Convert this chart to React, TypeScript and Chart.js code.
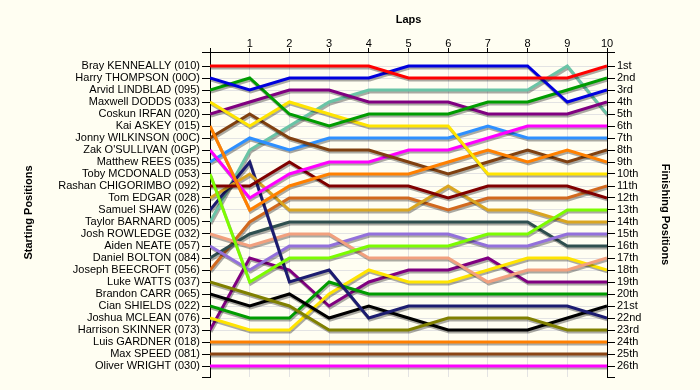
import React, { useEffect, useRef } from 'react';
import { Chart, registerables } from 'chart.js';

Chart.register(...registerables);

// ---- data ----
const laps = [0, 1, 2, 3, 4, 5, 6, 7, 8, 9, 10];
const lapTickLabels = ['', '1', '2', '3', '4', '5', '6', '7', '8', '9', '10'];

const startingNames = [
  'Bray KENNEALLY (010)', 'Harry THOMPSON (00O)', 'Arvid LINDBLAD (095)', 'Maxwell DODDS (033)',
  'Coskun IRFAN (020)', 'Kai ASKEY (015)', 'Jonny WILKINSON (00C)', "Zak O'SULLIVAN (0GP)",
  'Matthew REES (035)', 'Toby MCDONALD (053)', 'Rashan CHIGORIMBO (092)', 'Tom EDGAR (028)',
  'Samuel SHAW (026)', 'Taylor BARNARD (005)', 'Josh ROWLEDGE (032)', 'Aiden NEATE (057)',
  'Daniel BOLTON (084)', 'Joseph BEECROFT (056)', 'Luke WATTS (037)', 'Brandon CARR (065)',
  'Cian SHIELDS (022)', 'Joshua MCLEAN (076)', 'Harrison SKINNER (073)', 'Luis GARDNER (018)',
  'Max SPEED (081)', 'Oliver WRIGHT (030)',
];

const finishingLabels = [
  '1st', '2nd', '3rd', '4th', '5th', '6th', '7th', '8th', '9th', '10th', '11th', '12th', '13th',
  '14th', '15th', '16th', '17th', '18th', '19th', '20th', '21st', '22nd', '23rd', '24th', '25th', '26th',
];

const driverColors = [
  '#ff0000', '#0000dd', '#009c00', '#ffe400', '#800080', '#ff8000', '#804010', '#ff00ff',
  '#2e90ff', '#7cfc00', '#800000', '#daa520', '#1c1c70', '#6ac4a6', '#f2a07e', '#9370db',
  '#2f4f4f', '#d2691e', '#808000', '#000000', '#009c00', '#ffe400', '#800080', '#ff8000',
  '#8b4513', '#ff00ff',
];

const kenneally = [1, 1, 1, 1, 1, 2, 2, 2, 2, 2, 1];
const thompson = [2, 3, 2, 2, 2, 1, 1, 1, 1, 4, 3];
const lindblad = [3, 2, 5, 6, 5, 5, 5, 4, 4, 3, 2];
const dodds = [4, 6, 4, 5, 6, 6, 6, 10, 10, 10, 10];
const irfan = [5, 4, 3, 3, 4, 4, 4, 5, 5, 5, 4];
const askey = [6, 13, 11, 10, 10, 10, 9, 8, 9, 8, 9];
const wilkinson = [7, 5, 7, 8, 8, 9, 10, 9, 8, 9, 8];
const osullivan = [8, 12, 10, 9, 9, 8, 8, 7, 6, 6, 6];
const rees = [9, 7, 8, 7, 7, 7, 7, 6, 7, 7, 7];
const mcdonald = [10, 19, 17, 17, 16, 16, 16, 15, 15, 13, 13];
const chigorimbo = [11, 11, 9, 11, 11, 11, 12, 11, 11, 11, 12];
const edgar = [12, 10, 13, 13, 13, 13, 11, 13, 13, 14, 14];
const shaw = [13, 9, 19, 18, 22, 21, 21, 21, 21, 21, 22];
const barnard = [14, 8, 6, 4, 3, 3, 3, 3, 3, 1, 5];
const rowledge = [15, 16, 15, 15, 17, 17, 17, 19, 18, 18, 17];
const neate = [16, 18, 16, 16, 15, 15, 15, 16, 16, 15, 15];
const bolton = [17, 15, 14, 14, 14, 14, 14, 14, 14, 16, 16];
const beecroft = [18, 14, 12, 12, 12, 12, 13, 12, 12, 12, 11];
const watts = [19, 20, 21, 23, 23, 23, 22, 22, 22, 23, 23];
const carr = [20, 21, 20, 22, 21, 22, 23, 23, 23, 22, 21];
const shields = [21, 22, 22, 19, 20, 20, 20, 20, 20, 20, 20];
const mclean = [22, 23, 23, 20, 18, 19, 19, 18, 17, 17, 18];
const skinner = [23, 17, 18, 21, 19, 18, 18, 17, 19, 19, 19];
const gardner = [24, 24, 24, 24, 24, 24, 24, 24, 24, 24, 24];
const speed = [25, 25, 25, 25, 25, 25, 25, 25, 25, 25, 25];
const wright = [26, 26, 26, 26, 26, 26, 26, 26, 26, 26, 26];

const positionSeries = [
  kenneally, thompson, lindblad, dodds, irfan, askey, wilkinson, osullivan, rees, mcdonald,
  chigorimbo, edgar, shaw, barnard, rowledge, neate, bolton, beecroft, watts, carr, shields,
  mclean, skinner, gardner, speed, wright,
];

// ---- style ----
const FONT = "'Liberation Sans', Arial, sans-serif";
const BG = '#fffef2';
const GRID = '#e3e3e3';
const Y_MIN = -1 / 6;
const Y_MAX = 26 + 11 / 12;

const decorPlugin = {
  id: 'decor',
  beforeDatasetsDraw(chart: any) {
    const ctx = chart.ctx;
    ctx.save();
    ctx.shadowColor = 'rgba(0,0,0,0.33)';
    ctx.shadowOffsetX = 1;
    ctx.shadowOffsetY = 2;
    ctx.shadowBlur = 0;
  },
  afterDatasetsDraw(chart: any) {
    chart.ctx.restore();
  },
  afterDraw(chart: any) {
    const ctx = chart.ctx;
    const ca = chart.chartArea;
    ctx.save();
    ctx.fillStyle = '#000';
    ctx.font = `bold 11px ${FONT}`;
    ctx.textAlign = 'center';
    ctx.textBaseline = 'middle';
    ctx.fillText('Laps', (ca.left + ca.right) / 2, 20);
    const cy = (ca.top + ca.bottom) / 2;
    ctx.save();
    ctx.translate(29, cy - 2);
    ctx.rotate(-Math.PI / 2);
    ctx.fillText('Starting Positions', 0, 0);
    ctx.restore();
    ctx.save();
    ctx.translate(665, cy);
    ctx.rotate(Math.PI / 2);
    ctx.fillText('Finishing Positions', 0, 0);
    ctx.restore();
    ctx.restore();
  },
};

function yTicks(scale: any) {
  const t = [{ value: Y_MIN }];
  for (let i = 1; i <= startingNames.length; i++) t.push({ value: i });
  t.push({ value: Y_MAX });
  scale.ticks = t;
}

const gridColor = (ctx: any) =>
  ctx.tick && Number.isInteger(ctx.tick.value) ? GRID : 'rgba(0,0,0,0)';

export default function App() {
  const ref = useRef<HTMLCanvasElement>(null);

  useEffect(() => {
    if (!ref.current) return;
    const datasets = positionSeries.map((series, i) => ({
      label: startingNames[i],
      data: laps.map((lap, j) => ({ x: lap, y: series[j] })),
      borderColor: driverColors[i],
      backgroundColor: driverColors[i],
      borderWidth: 3,
      pointRadius: 0,
      pointHoverRadius: 0,
      tension: 0,
      fill: false,
    }));

    const chart = new Chart(ref.current, {
      type: 'line',
      data: { datasets },
      plugins: [decorPlugin],
      options: {
        animation: false,
        responsive: false,
        events: [],
        layout: { padding: { left: 0, right: 0, top: 0, bottom: 13 } },
        plugins: { legend: { display: false }, tooltip: { enabled: false }, title: { display: false } },
        scales: {
          x: {
            type: 'linear',
            position: 'top',
            min: 0,
            max: 10,
            ticks: {
              stepSize: 1,
              autoSkip: false,
              maxRotation: 0,
              color: '#000',
              font: { family: FONT, size: 11 },
              padding: -3,
              callback: (v: any) => lapTickLabels[laps.indexOf(Number(v))] ?? '',
            },
            grid: { color: GRID, lineWidth: 1, tickLength: 4, tickColor: '#000', drawTicks: true },
            border: { display: true, color: '#000', width: 1 },
            afterFit: (s: any) => { s.height = 52; },
          },
          y: {
            type: 'linear',
            position: 'left',
            reverse: true,
            min: Y_MIN,
            max: Y_MAX,
            afterBuildTicks: yTicks,
            ticks: {
              autoSkip: false,
              color: '#000',
              font: { family: FONT, size: 11 },
              padding: 2,
              callback: (v: any) => (Number.isInteger(v) ? startingNames[v - 1] : ''),
            },
            grid: { color: gridColor, lineWidth: 1, tickLength: 8, tickColor: '#000', drawTicks: true },
            border: { display: true, color: '#000', width: 1 },
            afterFit: (s: any) => { s.width = 210; },
          },
          y2: {
            type: 'linear',
            position: 'right',
            reverse: true,
            min: Y_MIN,
            max: Y_MAX,
            afterBuildTicks: yTicks,
            ticks: {
              autoSkip: false,
              color: '#000',
              font: { family: FONT, size: 11 },
              padding: 2,
              callback: (v: any) => (Number.isInteger(v) ? finishingLabels[v - 1] : ''),
            },
            grid: { drawOnChartArea: false, tickLength: 8, tickColor: '#000', drawTicks: true },
            border: { display: true, color: '#000', width: 1 },
            afterFit: (s: any) => { s.width = 93; },
          },
        },
      } as any,
    });
    return () => chart.destroy();
  }, []);

  return (
    <div style={{ position: 'fixed', left: 0, top: 0, width: 700, height: 390, background: BG }}>
      <canvas ref={ref} width={700} height={390} style={{ display: 'block', width: 700, height: 390 }} />
    </div>
  );
}
